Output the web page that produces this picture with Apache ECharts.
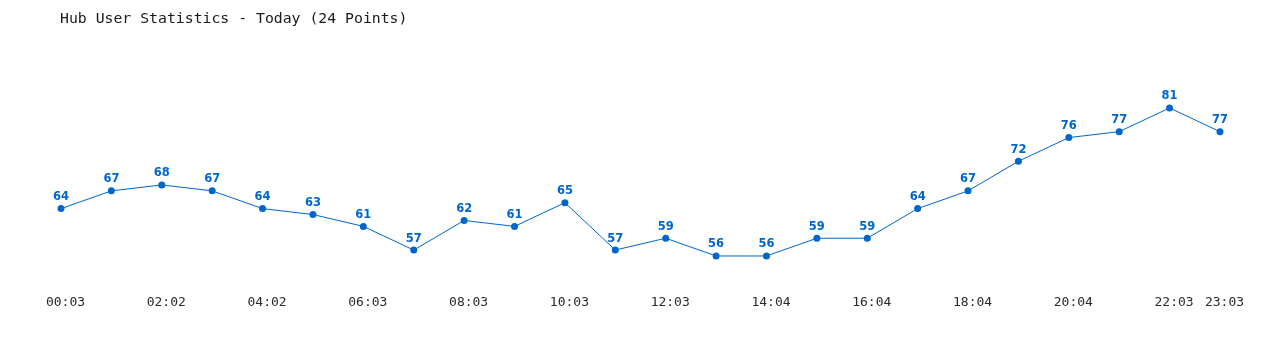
<!DOCTYPE html>
<html>
<head>
<meta charset="utf-8">
<script src="https://cdn.jsdelivr.net/npm/echarts@6/dist/echarts.min.js"></script>
<style>html,body{margin:0;padding:0;background:#fff}#c{width:1280px;height:350px}</style>
</head>
<body>
<div id="c"></div>
<script>
const titleText = 'Hub User Statistics - Today (24 Points)';
const times = ['00:03','01:02','02:02','03:02','04:02','05:03','06:03','07:03','08:03','09:03','10:03','11:03','12:03','13:03','14:04','15:04','16:04','17:04','18:04','19:04','20:04','21:04','22:03','23:03'];
const users = [64,67,68,67,64,63,61,57,62,61,65,57,59,56,56,59,59,64,67,72,76,77,81,77];

const chart = echarts.init(document.getElementById('c'), null, {renderer: 'canvas'});
chart.setOption({
  backgroundColor: '#ffffff',
  animation: false,
  title: {
    text: titleText,
    left: 55, top: 7,
    textStyle: {fontFamily: 'DejaVu Sans Mono', fontSize: 14.8, fontWeight: 'normal', color: '#1a1a1a'}
  },
  grid: {left: 61, right: 60, top: 54.7, height: 236.8},
  xAxis: {
    type: 'category',
    data: times,
    boundaryGap: false,
    axisLine: {show: false},
    axisTick: {show: false},
    splitLine: {show: false},
    axisLabel: {
      interval: function (i) { return i % 2 === 0 || i === times.length - 1; },
      fontFamily: 'DejaVu Sans Mono', fontSize: 13, color: '#2a2a2a', margin: 5,
      padding: [0, 0, 0, 9]
    }
  },
  yAxis: {
    type: 'value', min: 50, max: 90, show: false,
    splitLine: {show: false}
  },
  series: [{
    type: 'line',
    data: users,
    symbol: 'circle',
    symbolSize: 7,
    lineStyle: {color: '#0066cc', width: 1},
    itemStyle: {color: '#0066cc'},
    label: {
      show: true, position: 'top', distance: 2,
      fontFamily: 'DejaVu Sans', fontWeight: 'bold', fontSize: 11.5, color: '#0066cc'
    }
  }]
});
</script>
</body>
</html>
